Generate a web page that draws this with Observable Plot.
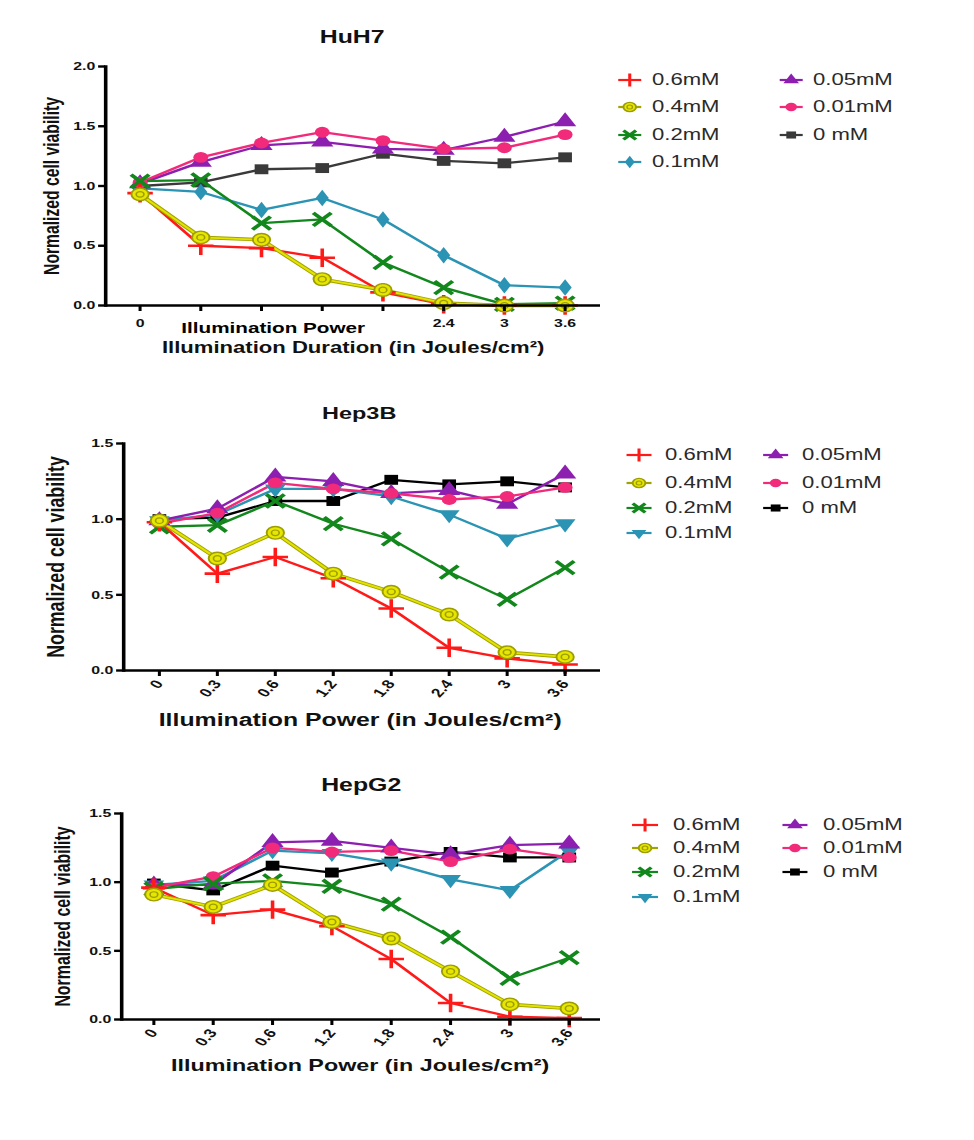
<!DOCTYPE html>
<html><head><meta charset="utf-8">
<script src="https://cdn.jsdelivr.net/npm/d3@7"></script>
<script src="https://cdn.jsdelivr.net/npm/@observablehq/plot@0.6"></script>
<style>
body{margin:0;background:#fff;}
#page{position:relative;width:974px;height:1140px;overflow:hidden;font-family:"Liberation Sans",Arial,sans-serif;}
.panel{position:absolute;left:0;}
.legend{position:absolute;left:0;top:0;width:706px;height:1140px;transform:scaleX(1.38);transform-origin:0 0;}
.lg-sw{position:absolute;overflow:visible;}
.lg-tx{position:absolute;font-size:16px;color:#2a2a2a;white-space:nowrap;transform:translateY(-50%);line-height:1;}
</style></head><body><div id="page"></div><script>
// horizontal stretch of the original figure
const S = 1.38;

// ---------------- data ----------------
const xLabels = ["0","0.3","0.6","1.2","1.8","2.4","3","3.6"];
const seriesNames = ["0.6mM","0.4mM","0.2mM","0.1mM","0.05mM","0.01mM","0 mM"];

// rows follow seriesNames order
const huh7Values = [
  [0.94,0.50,0.48,0.40,0.11,0.01,0.00,0.00],
  [0.93,0.57,0.55,0.22,0.13,0.02,0.00,0.00],
  [1.04,1.05,0.69,0.72,0.36,0.15,0.01,0.02],
  [0.98,0.95,0.80,0.90,0.72,0.42,0.17,0.15],
  [1.02,1.20,1.34,1.37,1.31,1.30,1.41,1.54],
  [1.03,1.24,1.36,1.45,1.38,1.31,1.32,1.43],
  [1.00,1.03,1.14,1.15,1.27,1.21,1.19,1.24]
];
const hep3bValues = [
  [0.98,0.64,0.75,0.61,0.41,0.15,0.08,0.04],
  [0.99,0.74,0.91,0.64,0.52,0.37,0.12,0.09],
  [0.95,0.96,1.12,0.97,0.87,0.65,0.47,0.68],
  [0.99,1.03,1.20,1.20,1.15,1.03,0.87,0.97],
  [0.99,1.07,1.28,1.25,1.17,1.19,1.10,1.30],
  [0.97,1.04,1.24,1.20,1.17,1.13,1.15,1.21],
  [1.00,1.01,1.12,1.12,1.26,1.23,1.25,1.21]
];
const hepg2Values = [
  [0.96,0.76,0.80,0.68,0.44,0.12,0.02,0.01],
  [0.91,0.82,0.98,0.71,0.59,0.35,0.11,0.08],
  [0.95,0.99,1.01,0.97,0.84,0.60,0.30,0.45],
  [0.98,1.01,1.23,1.21,1.14,1.02,0.94,1.23],
  [0.98,0.98,1.29,1.30,1.25,1.20,1.27,1.28],
  [0.96,1.04,1.25,1.22,1.23,1.15,1.24,1.18],
  [0.99,0.94,1.12,1.07,1.15,1.22,1.18,1.18]
];
const yTicksHuh7 = [0, 0.5, 1, 1.5, 2];
const yTicksHep = [0, 0.5, 1, 1.5];
const huh7HiddenTickLabels = ["0.3","0.6","1.2","1.8"];

const titles = ["HuH7", "Hep3B", "HepG2"];
const yLabel = "Normalized cell viability";
const xTitles = ["Illumination Duration (in Joules/cm²)", "Illumination Power (in Joules/cm²)", "Illumination Power (in Joules/cm²)"];
const huh7ExtraLabel = "Illumination Power";

// ---------------- styles ----------------
const FONT = "Liberation Sans, Arial, sans-serif";
function seriesStyles(variant) {
  return [
    {color:"#ff1a1a", symbol:"plus", r:6, lr:4.2, stroked:true, sw:2.6},
    {color:"#e3e300", outline:"#a3a300", symbol:"circle", r:6.3, lr:4.6, fill:"#e6e600", stroke:"#9d9d00", sw:1.4, inner:"#9d9d00"},
    {color:"#12871c", symbol:"times", r:6, lr:4.2, stroked:true, sw:3.2},
    variant === "huh7"
      ? {color:"#2b93b3", symbol:"diamond", r:5, lr:3.8, fill:"#2b93b3"}
      : {color:"#2b93b3", symbol:"triangle", r:5.6, lr:4, fill:"#2b93b3", rotate:180},
    {color:"#8d1fb0", symbol:"triangle", r:6, lr:4.2, fill:"#8d1fb0"},
    {color:"#f22a7a", symbol:"circle", r:5.4, lr:4.2, fill:"#f22a7a"},
    {color: variant === "huh7" ? "#3a3a3a" : "#000000", symbol:"square", r:5.6, lr:4, fill: variant === "huh7" ? "#3a3a3a" : "#000000"}
  ];
}
const drawOrder = [6, 3, 4, 5, 2, 0, 1];

// ---------------- panel builder ----------------
function makePanel(cfg) {
  const W = cfg.pageWidth / S;
  const mL = cfg.axisX / S;
  const mR = (cfg.pageWidth - cfg.rightX) / S;
  const styles = seriesStyles(cfg.variant);
  const rows = [];
  cfg.values.forEach((vals, si) => vals.forEach((v, i) => rows.push({series: seriesNames[si], x: xLabels[i], v})));

  const marks = [];
  for (const si of drawOrder) {
    const st = styles[si];
    const d = rows.filter(r => r.series === seriesNames[si]);
    if (st.outline) marks.push(Plot.line(d, {x:"x", y:"v", stroke: st.outline, strokeWidth: 3.6}));
    marks.push(Plot.line(d, {x:"x", y:"v", stroke: st.color, strokeWidth: st.outline ? 1.8 : 2.3}));
  }
  for (const si of drawOrder) {
    const st = styles[si];
    const d = rows.filter(r => r.series === seriesNames[si]);
    if (st.stroked) {
      marks.push(Plot.dot(d, {x:"x", y:"v", symbol: st.symbol, r: st.r, stroke: st.color, strokeWidth: st.sw, fill:"none"}));
    } else {
      marks.push(Plot.dot(d, {x:"x", y:"v", symbol: st.symbol, r: st.r, fill: st.fill, stroke: st.stroke || "none", strokeWidth: st.sw || 0, rotate: st.rotate || 0}));
    }
    if (st.inner) marks.push(Plot.dot(d, {x:"x", y:"v", r: 2.8, fill:"none", stroke: st.inner, strokeWidth: 1.2}));
  }
  marks.push(Plot.ruleY([0], {stroke:"#000", strokeWidth:2.6}));
  marks.push(Plot.frame({anchor:"left", stroke:"#000", strokeWidth:2.6}));
  marks.push(Plot.axisY({ticks: cfg.yTicks, tickFormat: d3.format(".1f"), tickSize: 5, tickPadding: 2.5, strokeWidth: 2.4, fontWeight:"bold", fontSize: 11.5, label: null, fill:"#111"}));
  marks.push(Plot.axisX({tickSize: 6, tickPadding: cfg.tickRotate ? 5 : 7, strokeWidth: 2.2, tickRotate: cfg.tickRotate || 0, fontWeight:"bold", fontSize: cfg.tickRotate ? 12.5 : 11.5, label: null, fill:"#111",
    tickFormat: d => (cfg.hidden && cfg.hidden.includes(d)) ? "" : d}));
  // titles and axis titles
  marks.push(Plot.text([cfg.title], {text: d => d, frameAnchor:"top", lineAnchor:"middle", dy: cfg.titleDy, dx: cfg.titleDx / S, fontSize: cfg.titleSize, fontWeight:"bold", fill:"#111", letterSpacing: cfg.titleSpacing}));
  marks.push(Plot.text([yLabel], {text: d => d, frameAnchor:"left", textAnchor:"middle", lineAnchor:"middle", rotate:-90, dx: (cfg.yLabelX - cfg.axisX) / S, dy: cfg.yLabelDy || 0, fontSize: cfg.yLabelSize, fontWeight:"bold", fill:"#111"}));
  marks.push(Plot.text([cfg.xTitle], {text: d => d, frameAnchor:"bottom", lineAnchor:"middle", dy: cfg.xTitleDy, dx: cfg.xTitleDx / S, fontSize: cfg.xTitleSize, fontWeight:"bold", fill:"#111"}));
  if (cfg.extra) marks.push(Plot.text([cfg.extra], {text: d => d, frameAnchor:"bottom", lineAnchor:"middle", dy: cfg.extraDy, dx: cfg.extraDx / S, fontSize: 15, fontWeight:"bold", fill:"#000"}));

  const svg = Plot.plot({
    width: W, height: cfg.height,
    marginLeft: mL, marginRight: mR, marginTop: cfg.marginTop, marginBottom: cfg.height - cfg.zeroY,
    x: {type:"point", domain: xLabels, padding: cfg.padding},
    y: {domain: [0, cfg.yMax]},
    style: {fontFamily: FONT, background: "transparent", overflow: "visible"},
    marks
  });
  svg.setAttribute("width", cfg.pageWidth);
  svg.setAttribute("preserveAspectRatio", "none");
  svg.style.width = cfg.pageWidth + "px";
  svg.style.height = cfg.height + "px";
  svg.style.maxWidth = "none";
  const wrap = document.createElement("div");
  wrap.className = "panel";
  wrap.style.top = cfg.top + "px";
  wrap.appendChild(svg);
  document.getElementById("page").appendChild(wrap);
}

// ---------------- legend builder ----------------
const symbolTypes = {plus: d3.symbolPlus, times: d3.symbolTimes, circle: d3.symbolCircle, square: d3.symbolSquare, triangle: d3.symbolTriangle, diamond: d3.symbolDiamond};
function makeLegend(variant, pos) {
  const styles = seriesStyles(variant);
  const box = document.createElement("div");
  box.className = "legend";
  seriesNames.forEach((name, si) => {
    const p = pos[si];
    const st = styles[si];
    const w = (p.x1 - p.x0) / S;
    const ns = "http://www.w3.org/2000/svg";
    const sw = document.createElementNS(ns, "svg");
    sw.setAttribute("class", "lg-sw");
    sw.setAttribute("width", w); sw.setAttribute("height", 16);
    sw.style.left = (p.x0 / S) + "px"; sw.style.top = (p.y - 8) + "px";
    const line = document.createElementNS(ns, "line");
    line.setAttribute("x1", 0); line.setAttribute("x2", w); line.setAttribute("y1", 8); line.setAttribute("y2", 8);
    line.setAttribute("stroke", st.outline || st.color); line.setAttribute("stroke-width", 2.2);
    sw.appendChild(line);
    const path = document.createElementNS(ns, "path");
    path.setAttribute("d", d3.symbol(symbolTypes[st.symbol], Math.PI * st.lr * st.lr)());
    path.setAttribute("transform", `translate(${w/2},8) rotate(${st.rotate || 0})`);
    if (st.stroked) { path.setAttribute("fill", "none"); path.setAttribute("stroke", st.color); path.setAttribute("stroke-width", st.sw * 0.85); }
    else { path.setAttribute("fill", st.fill); path.setAttribute("stroke", st.stroke || "none"); path.setAttribute("stroke-width", st.sw || 0); }
    sw.appendChild(path);
    if (st.inner) {
      const c = document.createElementNS(ns, "circle");
      c.setAttribute("cx", w/2); c.setAttribute("cy", 8); c.setAttribute("r", 2);
      c.setAttribute("fill", "none"); c.setAttribute("stroke", st.inner); c.setAttribute("stroke-width", 1);
      sw.appendChild(c);
    }
    box.appendChild(sw);
    const tx = document.createElement("div");
    tx.className = "lg-tx";
    tx.textContent = name;
    tx.style.left = (p.tx / S) + "px"; tx.style.top = p.y + "px";
    box.appendChild(tx);
  });
  document.getElementById("page").appendChild(box);
}

function legendPos(c1, c2, rowsY) {
  // c = [lineStart, lineEnd, textStart]
  const cols = [c1, c1, c1, c1, c2, c2, c2];
  const ys = [rowsY[0], rowsY[1], rowsY[2], rowsY[3], rowsY[0], rowsY[1], rowsY[2]];
  return cols.map((c, i) => ({x0: c[0], x1: c[1], tx: c[2], y: ys[i]}));
}

// ---------------- build ----------------
makePanel({variant:"huh7", values: huh7Values, title: titles[0], xTitle: xTitles[0], top: 0, height: 370,
  pageWidth: 640, axisX: 105, rightX: 600, marginTop: 66, zeroY: 305, yMax: 2, yTicks: yTicksHuh7, padding: 0.5,
  hidden: huh7HiddenTickLabels, titleDy: -29, titleDx: -1, titleSize: 18, titleSpacing: 0,
  yLabelX: 51, yLabelSize: 15.7, xTitleDy: 42, xTitleDx: 0, xTitleSize: 16,
  extra: huh7ExtraLabel, extraDy: 23, extraDx: -80});
makePanel({variant:"hep", values: hep3bValues, title: titles[1], xTitle: xTitles[1], top: 370, height: 385,
  pageWidth: 640, axisX: 123, rightX: 600, marginTop: 73, zeroY: 300, yMax: 1.5, yTicks: yTicksHep, padding: 0.52,
  tickRotate: -54, titleDy: -30, titleDx: -3, titleSize: 17, titleSpacing: 1,
  yLabelX: 55, yLabelSize: 17.8, xTitleDy: 50, xTitleDx: -2, xTitleSize: 18});
makePanel({variant:"hep", values: hepg2Values, title: titles[2], xTitle: xTitles[2], top: 755, height: 385,
  pageWidth: 640, axisX: 121, rightX: 600, marginTop: 58, zeroY: 264, yMax: 1.5, yTicks: yTicksHep, padding: 0.47,
  tickRotate: -54, titleDy: -28, titleDx: 0, titleSize: 18, titleSpacing: 0.5,
  yLabelX: 62, yLabelSize: 15.9, xTitleDy: 46, xTitleDx: -1, xTitleSize: 16.9});

makeLegend("huh7", legendPos([618, 641, 652], [780, 803, 813], [80, 107, 135, 162]));
makeLegend("hep", legendPos([627, 652, 665], [763, 788, 802], [455, 483, 508, 533]));
makeLegend("hep", legendPos([632, 658, 673], [783, 808, 823], [825, 848, 872, 897]));
</script></body></html>
